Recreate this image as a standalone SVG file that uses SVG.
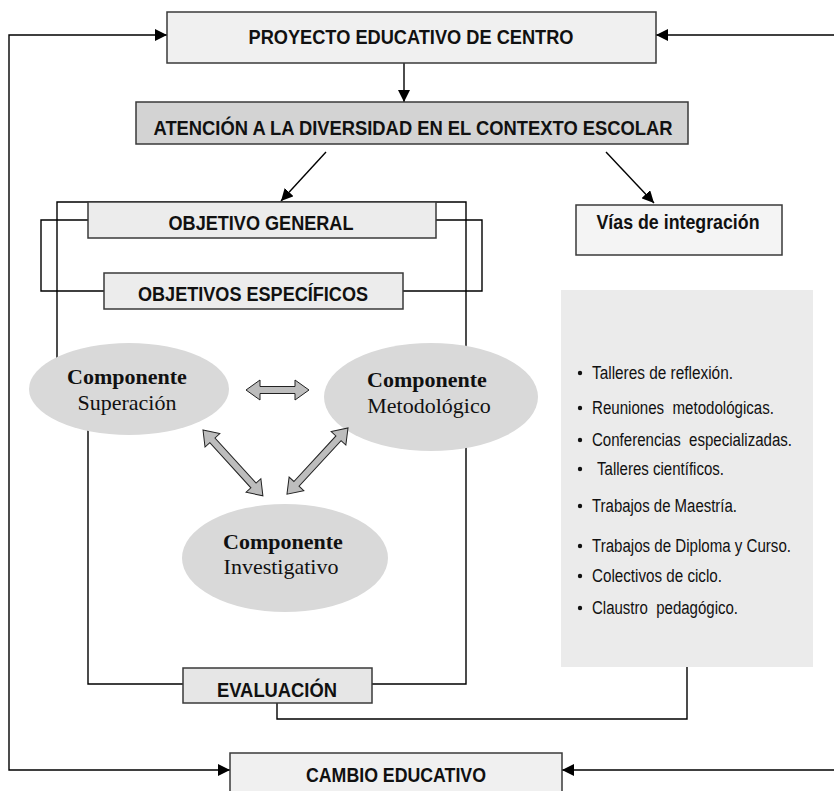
<svg xmlns="http://www.w3.org/2000/svg" width="834" height="791" viewBox="0 0 834 791">
<defs>
<marker id="ah" viewBox="0 0 12 12" refX="12" refY="6" markerWidth="12" markerHeight="12" markerUnits="userSpaceOnUse" orient="auto"><path d="M0,0 L12,6 L0,12 Z" fill="#000"/></marker>
</defs>
<style>
.box{stroke:#3a3a3a;stroke-width:1.5}
.hd{font-family:"Liberation Sans",Arial,sans-serif;font-weight:bold;font-size:21px;fill:#111;text-anchor:middle}
.ln{fill:none;stroke:#000;stroke-width:1.4}
.ell{fill:#d9d9d9}
.cb{font-family:"Liberation Serif","Times New Roman",serif;font-weight:bold;font-size:22px;fill:#111;text-anchor:middle}
.cr{font-family:"Liberation Serif","Times New Roman",serif;font-size:22px;fill:#111;text-anchor:middle}
.li{font-family:"Liberation Sans",Arial,sans-serif;font-size:18px;fill:#111}
.dbl{fill:#bdbdbd;stroke:#222;stroke-width:1}
</style>
<rect width="834" height="791" fill="#fff"/>

<g id="connectors">
<path class="ln" d="M9,400 V35 H167" marker-end="url(#ah)"/>
<path class="ln" d="M9,400 V770 H230" marker-end="url(#ah)"/>
<path class="ln" d="M834,35 H656" marker-end="url(#ah)"/>
<path class="ln" d="M834,770 H562" marker-end="url(#ah)"/>
<path class="ln" d="M404,63 V102" marker-end="url(#ah)"/>
<path class="ln" d="M326,152 L281,201" marker-end="url(#ah)"/>
<path class="ln" d="M606,152 L654,203" marker-end="url(#ah)"/>
<path class="ln" d="M88,684 V400 H57 V202 H466 V684 Z"/>
<path class="ln" d="M88,220 H41 V291 H104"/>
<path class="ln" d="M436,220 H482 V291 H403"/>
<path class="ln" d="M277,703 V719 H687 V667"/>
</g>

<g id="proyecto">
<rect class="box" x="167" y="12" width="489" height="51" fill="#f0f0f0"/>
<text class="hd" x="411" y="44" textLength="325" lengthAdjust="spacingAndGlyphs">PROYECTO EDUCATIVO DE CENTRO</text>
</g>

<g id="atencion">
<rect class="box" x="136" y="102" width="552" height="42" fill="#d3d3d3"/>
<text class="hd" x="413" y="135" font-size="22" textLength="519" lengthAdjust="spacingAndGlyphs">ATENCIÓN A LA DIVERSIDAD EN EL CONTEXTO ESCOLAR</text>
</g>

<g id="objetivo-general">
<rect class="box" x="88" y="202" width="348" height="36" fill="#ececec"/>
<text class="hd" x="261" y="230" textLength="185" lengthAdjust="spacingAndGlyphs">OBJETIVO GENERAL</text>
</g>

<g id="objetivos-especificos">
<rect class="box" x="104" y="273" width="299" height="36" fill="#ececec"/>
<text class="hd" x="253" y="301" textLength="230" lengthAdjust="spacingAndGlyphs">OBJETIVOS ESPECÍFICOS</text>
</g>

<g id="vias">
<rect class="box" x="576" y="205" width="206" height="50" fill="#f4f4f4"/>
<text class="hd" x="678" y="229" font-size="20" textLength="163" lengthAdjust="spacingAndGlyphs">Vías de integración</text>
</g>

<g id="lista">
<rect x="561" y="290" width="252" height="377" fill="#ebebeb"/>
<g fill="#111">
<circle cx="580" cy="373" r="2.2"/>
<circle cx="580" cy="408" r="2.2"/>
<circle cx="580" cy="440" r="2.2"/>
<circle cx="580" cy="469" r="2.2"/>
<circle cx="580" cy="506" r="2.2"/>
<circle cx="580" cy="546" r="2.2"/>
<circle cx="580" cy="576" r="2.2"/>
<circle cx="580" cy="608" r="2.2"/>
</g>
<text class="li" x="592" y="379" textLength="141" lengthAdjust="spacingAndGlyphs">Talleres de reflexión.</text>
<text class="li" x="592" y="414" textLength="182" lengthAdjust="spacingAndGlyphs" xml:space="preserve">Reuniones  metodológicas.</text>
<text class="li" x="592" y="446" textLength="200" lengthAdjust="spacingAndGlyphs" xml:space="preserve">Conferencias  especializadas.</text>
<text class="li" x="597" y="475" textLength="127" lengthAdjust="spacingAndGlyphs">Talleres científicos.</text>
<text class="li" x="592" y="512" textLength="145" lengthAdjust="spacingAndGlyphs">Trabajos de Maestría.</text>
<text class="li" x="592" y="552" textLength="199" lengthAdjust="spacingAndGlyphs">Trabajos de Diploma y Curso.</text>
<text class="li" x="592" y="582" textLength="130" lengthAdjust="spacingAndGlyphs">Colectivos de ciclo.</text>
<text class="li" x="592" y="614" textLength="146" lengthAdjust="spacingAndGlyphs" xml:space="preserve">Claustro  pedagógico.</text>
</g>

<g id="superacion">
<ellipse class="ell" cx="129" cy="389" rx="100" ry="46"/>
<text class="cb" x="127" y="384">Componente</text>
<text class="cr" x="127" y="410">Superación</text>
</g>

<g id="metodologico">
<ellipse class="ell" cx="431" cy="397" rx="107" ry="54"/>
<text class="cb" x="427" y="387">Componente</text>
<text class="cr" x="429" y="413">Metodológico</text>
</g>

<g id="investigativo">
<ellipse class="ell" cx="285" cy="558" rx="103" ry="54"/>
<text class="cb" x="283" y="549">Componente</text>
<text class="cr" x="281" y="574">Investigativo</text>
</g>

<g id="double-arrows">
<path class="dbl" transform="translate(246,390)" d="M0,0 L14,-10 L14,-3.5 L49,-3.5 L49,-10 L63,0 L49,10 L49,3.5 L14,3.5 L14,10 Z"/>
<path class="dbl" transform="translate(203,430) rotate(47.7)" d="M0,0 L14,-10 L14,-3.5 L75,-3.5 L75,-10 L89,0 L75,10 L75,3.5 L14,3.5 L14,10 Z"/>
<path class="dbl" transform="translate(348,428) rotate(132.7)" d="M0,0 L14,-10 L14,-3.5 L76,-3.5 L76,-10 L90,0 L76,10 L76,3.5 L14,3.5 L14,10 Z"/>
</g>

<g id="evaluacion">
<rect class="box" x="183" y="668" width="189" height="35" fill="#e6e6e6"/>
<text class="hd" x="277" y="697" textLength="120" lengthAdjust="spacingAndGlyphs">EVALUACIÓN</text>
</g>

<g id="cambio">
<rect class="box" x="230" y="753" width="332" height="45" fill="#f0f0f0"/>
<text class="hd" x="396" y="782" textLength="180" lengthAdjust="spacingAndGlyphs">CAMBIO EDUCATIVO</text>
</g>
</svg>
